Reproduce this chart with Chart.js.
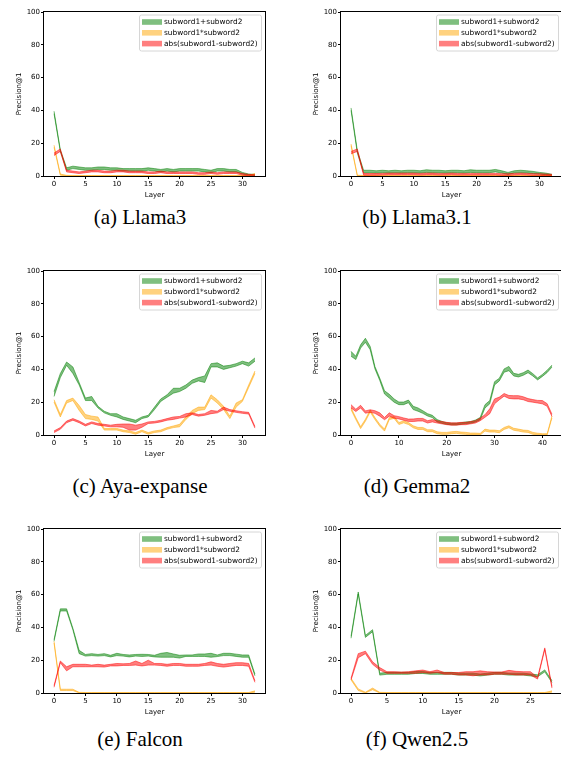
<!DOCTYPE html>
<html>
<head>
<meta charset="utf-8">
<script src="https://cdn.jsdelivr.net/npm/chart.js@4.4.0/dist/chart.umd.min.js"></script>
<style>
  body { margin: 0; width: 561px; height: 758px; overflow: hidden; position: relative; background: #fff; }
  canvas { position: absolute; }
  .cap { position: absolute; width: 280px; text-align: center; font-family: 'Liberation Serif', 'Times New Roman', serif; font-size: 21px; line-height: 21px; color: #000; }
</style>
</head>
<body>
<canvas id="llama3" width="280" height="200" style="left:0px;top:0px"></canvas>
<canvas id="llama31" width="280" height="200" style="left:297px;top:0px"></canvas>
<canvas id="aya" width="280" height="200" style="left:0px;top:259px"></canvas>
<canvas id="gemma2" width="280" height="200" style="left:297px;top:259px"></canvas>
<canvas id="falcon" width="280" height="200" style="left:0px;top:517px"></canvas>
<canvas id="qwen" width="280" height="200" style="left:297px;top:517px"></canvas>
<div class="cap" style="left:0px;top:207px">(a) Llama3</div>
<div class="cap" style="left:277px;top:207px">(b) Llama3.1</div>
<div class="cap" style="left:0px;top:476px">(c) Aya-expanse</div>
<div class="cap" style="left:277px;top:476px">(d) Gemma2</div>
<div class="cap" style="left:0px;top:729px">(e) Falcon</div>
<div class="cap" style="left:277px;top:729px">(f) Qwen2.5</div>
<script>
seriesNames = ['subword1+subword2', 'subword1*subword2', 'abs(subword1-subword2)'];
yTicks = [0, 20, 40, 60, 80, 100];

// Llama3 (layers 0..32)
llama3AddLo = [38, 15, 3.5, 4.5, 4, 3.5, 3.5, 4, 4, 3.5, 3.5, 3, 3, 3, 3, 3.5, 3, 2.5, 3, 2.5, 3, 3, 3, 3, 2.5, 2, 3, 3, 2.5, 2.5, 1.2, 0.5, 0.3];
llama3AddHi = [39.5, 16, 5, 6, 5.5, 5, 5, 5.5, 5.5, 5, 5, 4.5, 4.5, 4.5, 4.5, 5, 4.5, 4, 4.5, 4, 4.5, 4.5, 4.5, 4.5, 4, 3.5, 4.5, 4.5, 4, 4, 2.2, 1.2, 1];
llama3MulLo = [17.5, 0.5, 0, 0, 0, 0, 0, 0, 0, 0, 0, 0, 0, 0, 0, 0, 0, 0, 0, 0, 0, 0, 0, 0, 0, 0, 0, 0, 0, 0, 0, 0, 1];
llama3MulHi = [18.8, 1.2, 0.4, 0.3, 0.3, 0.3, 0.3, 0.3, 0.3, 0.3, 0.3, 0.3, 0.3, 0.3, 0.3, 0.3, 0.3, 0.3, 0.3, 0.3, 0.3, 0.3, 0.3, 0.3, 0.3, 0.3, 0.3, 0.3, 0.3, 0.3, 0.3, 0.3, 1.6];
llama3AbsLo = [12.5, 15, 2.5, 2, 1.5, 2, 2.5, 2.5, 2, 2, 2.5, 2.5, 2, 2, 2, 1.5, 1.5, 2, 1.5, 1.5, 1.5, 1.5, 1.5, 1, 1, 1.5, 1, 1.5, 1.5, 1.5, 0.5, 0.2, 0.2];
llama3AbsHi = [14, 16.5, 3.5, 3, 2.5, 3, 3.5, 3.5, 3, 3, 3.5, 3.5, 3, 3, 3, 2.5, 2.5, 3, 2.5, 2.5, 2.5, 2.5, 2.5, 2, 2, 2.5, 2, 2.5, 2.5, 2.5, 1.5, 1, 0.8];

// Llama3.1 (layers 0..32)
llama31AddLo = [40, 14, 2, 2, 1.8, 2, 1.8, 2, 1.8, 2, 2, 1.8, 2.2, 2, 2, 1.8, 2, 2, 1.8, 2.2, 2, 2, 2, 2.5, 1.8, 1, 1.8, 2, 1.8, 1.5, 1.2, 0.8, 0.3];
llama31AddHi = [41.5, 15.5, 3.5, 3.5, 3.2, 3.5, 3.2, 3.5, 3.2, 3.5, 3.5, 3.2, 3.8, 3.5, 3.5, 3.2, 3.5, 3.5, 3.2, 3.8, 3.5, 3.5, 3.5, 4, 3.2, 2.2, 3.2, 3.5, 3.2, 2.8, 2.2, 1.8, 1];
llama31MulLo = [18.5, 0, 0, 0, 0, 0, 0, 0, 0, 0, 0, 0, 0, 0, 0, 0, 0, 0, 0, 0, 0, 0, 0, 0, 0, 0, 0, 0, 0, 0, 0, 0, 0];
llama31MulHi = [19.5, 0.5, 0.3, 0.3, 0.3, 0.3, 0.3, 0.3, 0.3, 0.3, 0.3, 0.3, 0.3, 0.3, 0.3, 0.3, 0.3, 0.3, 0.3, 0.3, 0.3, 0.3, 0.3, 0.3, 0.3, 0.3, 0.3, 0.3, 0.3, 0.3, 0.3, 0.3, 0.5];
llama31AbsLo = [13.5, 15, 0.5, 0.5, 0.5, 0.6, 0.8, 0.8, 0.8, 0.8, 0.8, 0.6, 0.8, 0.8, 0.6, 0.6, 0.8, 0.6, 0.6, 0.6, 0.6, 0.6, 0.6, 0.6, 0.4, 0.4, 0.6, 0.8, 0.6, 0.4, 0.4, 0.2, 0.2];
llama31AbsHi = [15, 16.5, 1.5, 1.5, 1.5, 1.6, 1.8, 1.8, 1.8, 1.8, 1.8, 1.6, 1.8, 1.8, 1.6, 1.6, 1.8, 1.6, 1.6, 1.6, 1.6, 1.6, 1.6, 1.6, 1.4, 1.4, 1.6, 1.8, 1.6, 1.4, 1.4, 1.2, 1];

// Aya-expanse (layers 0..32)
ayaAddLo = [23.5, 35, 42.5, 37.5, 30.5, 21, 21, 16.5, 13.5, 12, 11, 9.5, 8.5, 7.5, 10, 11, 15.5, 20.5, 23, 25.5, 26.5, 28.5, 31.5, 33, 32, 41.5, 41.5, 40, 41, 42, 43.5, 42, 45];
ayaAddHi = [26.5, 37.5, 44.5, 41.5, 32, 22.5, 23.5, 17.5, 14.5, 13, 13, 11, 10, 9, 11, 12, 17, 22, 24.5, 28.5, 28.5, 30.5, 33.5, 35, 36, 43.5, 44, 42, 42.5, 43.5, 45, 44, 47];
ayaMulLo = [20, 11, 19.5, 21, 15, 10, 9.5, 8.5, 3, 3, 3, 2, 1.5, 0.5, 2, 0.5, 1.5, 2, 3.5, 4.5, 5, 9.5, 13, 15, 15.5, 22.5, 19.5, 15.5, 10, 17, 20.5, 29, 37.5];
ayaMulHi = [21.5, 12.5, 21, 22.5, 18, 12.5, 11.5, 11, 4, 4, 4, 3, 2.5, 1.5, 3, 1.5, 2.5, 3, 4.5, 5.5, 6.5, 11, 15, 17, 17, 24.5, 21.5, 17.5, 11.5, 19.5, 21.5, 30.5, 39];
ayaAbsLo = [1.5, 3.5, 7.5, 9, 7.5, 5.5, 7, 6, 5.5, 5, 5, 4.7, 3, 3, 4.7, 7, 7.3, 8, 9, 9.5, 10.3, 11, 12.5, 11.5, 12, 13, 13.5, 15.5, 14.5, 13.8, 13.2, 12.8, 4.2];
ayaAbsHi = [2.5, 4.5, 8.5, 10, 8.5, 6.5, 8, 7, 6.5, 6, 6.5, 6.7, 6.7, 6, 6.7, 8, 8.3, 9, 10, 11, 11.3, 13, 13.5, 12.5, 13, 15, 14.5, 17, 15.5, 14.8, 14.2, 13.8, 5.2];

// Gemma2 (layers 0..42)
gemmaAddLo = [48, 46, 53, 56.5, 52, 40.3, 33.3, 25, 22.5, 20, 18.5, 18.5, 19.7, 15.5, 14.5, 13.2, 11.6, 10.6, 8, 7.1, 6.5, 6.2, 6.2, 6.5, 7, 7.2, 7.9, 9.3, 16.5, 19, 30.5, 33, 38.3, 39.2, 36, 35.4, 36.4, 38, 36, 33.6, 35.7, 38.1, 41.4];
gemmaAddHi = [51, 48, 55, 59, 54, 41.7, 34.7, 27, 24.8, 22, 20.1, 20.1, 21.3, 17.5, 16.5, 14.8, 13, 12, 9.4, 8.3, 7.5, 7.2, 7.2, 7.5, 8, 8.2, 9.1, 10.7, 18.5, 21, 32.5, 34.6, 40.3, 41.8, 37.6, 37, 38, 39.6, 37.4, 34.8, 36.9, 39.5, 42.6];
gemmaMulLo = [15.4, 9.4, 3.9, 8.4, 14, 9.4, 5.4, 2.4, 9.4, 10.1, 6.4, 7.4, 6.4, 4.4, 3.4, 3.4, 2, 2, 0.8, 0.4, 0.4, 0.8, 1, 0.6, 0.4, 0, 0, 0, 2.4, 1.8, 1.8, 1.4, 3.4, 4.4, 2.9, 2.4, 1.8, 1.6, 0.4, 0, 0, 0, 10.4];
gemmaMulHi = [16.6, 10.6, 5.1, 9.6, 15.2, 10.6, 6.6, 3.6, 10.6, 11.3, 7.6, 8.6, 7.6, 5.6, 4.6, 4.6, 3.2, 3.2, 2, 1.6, 1.6, 2, 2.2, 1.8, 1.6, 1.2, 1.2, 1, 3.6, 3, 3, 2.6, 4.6, 5.6, 4.1, 3.6, 3, 2.8, 1.6, 1.1, 0.8, 0.8, 11.6];
gemmaAbsLo = [16.5, 14.3, 16.5, 13.3, 13.8, 13.2, 11.5, 9.3, 11.5, 10.2, 9.8, 9, 8.3, 8.2, 8.5, 8.5, 7.3, 8, 7.3, 6.8, 6.3, 6, 6, 6.3, 6.3, 6.8, 7.3, 8.7, 10.8, 13, 19, 21.5, 23.7, 22.3, 22, 22, 21.5, 20.4, 20, 19.5, 19, 17.5, 11.3];
gemmaAbsHi = [18.5, 15.7, 18.1, 14.7, 15.4, 14.8, 13.5, 10.7, 13.5, 11.8, 11.2, 10.4, 9.7, 9.8, 10.1, 10.1, 8.7, 9.4, 8.7, 8.2, 7.7, 7.4, 7.4, 7.7, 7.7, 8.2, 8.7, 10.3, 12.4, 16, 22, 23.1, 25.3, 24.1, 24, 24, 23.3, 22.2, 21.6, 21.1, 21, 19.1, 12.7];

// Falcon (layers 0..32)
falconAddLo = [31.5, 50, 50, 38.5, 24, 22.5, 22.8, 22.5, 22.8, 22, 22.8, 22.5, 22, 22.5, 22.3, 22.5, 22, 21.8, 21.8, 21.8, 21.3, 22.3, 22.3, 22.3, 22.3, 21.8, 22.2, 22.8, 22.8, 22.3, 21.8, 21.8, 10.5];
falconAddHi = [32.5, 51.3, 51.3, 39.5, 26, 23.5, 24, 23.5, 24, 23, 24.2, 23.5, 23.2, 23.5, 23.6, 23.5, 23, 24.2, 24.7, 23.8, 23, 23.2, 23.2, 23.8, 23.8, 24.2, 23.2, 24.2, 24.2, 23.7, 23.2, 23.2, 11.5];
falconMulLo = [30.5, 1.5, 1.5, 1.5, 0, 0, 0, 0, 0, 0, 0, 0, 0, 0, 0, 0, 0, 0, 0, 0, 0, 0, 0, 0, 0, 0, 0, 0, 0, 0, 0, 0, 0.5];
falconMulHi = [31.5, 2.3, 2.3, 2.3, 0.4, 0.3, 0.3, 0.3, 0.3, 0.3, 0.3, 0.3, 0.3, 0.3, 0.3, 0.3, 0.3, 0.3, 0.3, 0.3, 0.3, 0.3, 0.3, 0.3, 0.3, 0.3, 0.3, 0.3, 0.3, 0.3, 0.3, 0.3, 1.3];
falconAbsLo = [3.5, 18.5, 13.5, 16, 16, 16, 16, 16, 15.8, 16.5, 16.5, 16.8, 16.8, 17, 16.5, 17, 17, 16.8, 16.3, 16.8, 16.8, 16.3, 16.3, 16.3, 16.8, 17, 16.3, 15.8, 16.3, 16.8, 16.8, 16.3, 6.5];
falconAbsHi = [4.5, 19.5, 16, 17.5, 17.5, 17.5, 17, 17.5, 17, 17.5, 18, 17.8, 18, 19.5, 18, 20, 18, 18, 17.5, 18, 18, 17.5, 17.5, 17.5, 18, 19, 18, 17.5, 18, 18.5, 18.5, 18, 7.5];

// Qwen2.5 (layers 0..28)
qwenAddLo = [33.4, 60.4, 33.9, 37.4, 10.9, 11.4, 11.4, 11.4, 11.4, 11.9, 11.9, 11.4, 11.4, 11.4, 11.4, 10.9, 10.9, 10.9, 10.4, 10.9, 11.4, 11.4, 10.9, 10.9, 10.9, 10.4, 9.9, 12.9, 6.4];
qwenAddHi = [34.6, 61.6, 35.1, 38.6, 12.1, 12.6, 12.6, 12.6, 12.6, 13.1, 13.1, 12.6, 12.6, 12.6, 12.6, 12.1, 12.1, 12.1, 11.6, 12.1, 12.6, 12.6, 12.1, 12.1, 12.1, 11.6, 11.1, 14.1, 7.6];
qwenMulLo = [8, 1.5, 0, 2, 0, 0, 0, 0, 0, 0, 0, 0, 0, 0, 0, 0, 0, 0, 0, 0, 0, 0, 0, 0, 0, 0, 0, 0, 0.5];
qwenMulHi = [9, 2.5, 0.5, 3, 0.4, 0.3, 0.3, 0.3, 0.3, 0.3, 0.3, 0.3, 0.3, 0.3, 0.3, 0.3, 0.3, 0.3, 0.3, 0.3, 0.3, 0.3, 0.3, 0.3, 0.3, 0.3, 0.3, 0.3, 1.3];
qwenAbsLo = [8, 21.5, 24, 17.5, 14, 12, 12, 12, 12, 12, 12.5, 12, 12.5, 11.5, 11.5, 11, 11, 10.5, 11, 11, 11.5, 11.5, 11.5, 11, 11, 11, 8.5, 26.5, 3];
qwenAbsHi = [9, 24, 25.5, 19, 15.5, 13, 13, 12.8, 13, 13.5, 14, 13, 14, 12.5, 12.5, 12.5, 13, 13, 13.5, 13, 12.8, 12.8, 13.8, 13.2, 13, 13, 9.5, 27.5, 4];

green = 'rgba(0, 128, 0, 0.5)';
orange = 'rgba(255, 165, 0, 0.5)';
red = 'rgba(255, 0, 0, 0.5)';
colors = [green, orange, red];
tickFont = { family: 'DejaVu Sans', size: 7 };

// frame around the axes, like matplotlib spines
const framePlugin = {
  id: 'frame',
  afterDatasetsDraw(chart) {
    const a = chart.chartArea;
    const ctx = chart.ctx;
    ctx.save();
    ctx.strokeStyle = '#000';
    ctx.lineWidth = 1;
    ctx.strokeRect(Math.round(a.left) - 0.5, Math.round(a.top) - 0.5, Math.round(a.right - a.left) + 1, Math.round(a.bottom - a.top) + 1);
    ctx.restore();
  }
};

// legend box in the upper right corner of the axes
const boxLegend = {
  id: 'boxLegend',
  afterDraw(chart) {
    const a = chart.chartArea;
    const ctx = chart.ctx;
    ctx.save();
    ctx.font = '7.4px "DejaVu Sans"';
    var tw = 0;
    for (var k = 0; k < seriesNames.length; k++) tw = Math.max(tw, ctx.measureText(seriesNames[k]).width);
    const w = Math.round(25 + tw + 3), h = 36;
    const x = a.right - 4 - w, y = a.top + 2.5;
    ctx.beginPath();
    ctx.roundRect(x + 0.5, y + 0.5, w, h, 2);
    ctx.fillStyle = 'rgba(255,255,255,0.8)';
    ctx.fill();
    ctx.strokeStyle = '#d6d6d6';
    ctx.lineWidth = 1;
    ctx.stroke();
    ctx.textBaseline = 'middle';
    for (var i = 0; i < seriesNames.length; i++) {
      const cy = y + 7.5 + i * 10.8;
      ctx.fillStyle = colors[i];
      ctx.fillRect(x + 3, cy - 2.8, 20, 5.6);
      ctx.fillStyle = '#000';
      ctx.fillText(seriesNames[i], x + 25, cy + 0.5);
    }
    ctx.restore();
  }
};

function band(lo, hi, color) {
  const pts = arr => arr.map((v, i) => ({ x: i, y: v }));
  return [
    { data: pts(lo), borderColor: color, borderWidth: 1, pointRadius: 0, fill: false },
    { data: pts(hi), borderColor: color, borderWidth: 1, pointRadius: 0, fill: '-1', backgroundColor: color }
  ];
}

function makeChart(id, add, mul, abs, step) {
  const last = add[0].length - 1;
  // red first so it is painted on top
  const datasets = [].concat(band(abs[0], abs[1], red), band(mul[0], mul[1], orange), band(add[0], add[1], green));
  return new Chart(document.getElementById(id), {
    type: 'line',
    data: { datasets: datasets },
    plugins: [framePlugin, boxLegend],
    options: {
      responsive: false,
      animation: false,
      devicePixelRatio: 1,
      layout: { padding: { top: 12, right: 15, left: 0, bottom: 0 } },
      plugins: { legend: { display: false }, tooltip: { enabled: false } },
      scales: {
        x: {
          type: 'linear',
          min: -0.05 * last,
          max: last * 1.05,
          afterBuildTicks: (scale) => {
            const t = [];
            for (var v = 0; v <= last; v += step) t.push({ value: v });
            scale.ticks = t;
          },
          afterFit: (scale) => { scale.height = 24; },
          grid: { drawOnChartArea: false, drawTicks: true, tickLength: 3, color: '#000' },
          border: { display: false },
          ticks: { font: tickFont, color: '#000', padding: 1, maxRotation: 0 },
          title: { display: true, text: 'Layer', font: tickFont, color: '#000', padding: { top: 0, bottom: 1 } }
        },
        y: {
          min: 0,
          max: 100,
          afterBuildTicks: (scale) => { scale.ticks = yTicks.map(v => ({ value: v })); },
          afterFit: (scale) => { scale.width = 44; },
          grid: { drawOnChartArea: false, drawTicks: true, tickLength: 3, color: '#000' },
          border: { display: false },
          ticks: { font: tickFont, color: '#000', padding: 1 },
          title: { display: true, text: 'Precision@1', font: tickFont, color: '#000', padding: { top: 15, bottom: 0 } }
        }
      }
    }
  });
}

charts = [];
charts.push(makeChart('llama3', [llama3AddLo, llama3AddHi], [llama3MulLo, llama3MulHi], [llama3AbsLo, llama3AbsHi], 5));
charts.push(makeChart('llama31', [llama31AddLo, llama31AddHi], [llama31MulLo, llama31MulHi], [llama31AbsLo, llama31AbsHi], 5));
charts.push(makeChart('aya', [ayaAddLo, ayaAddHi], [ayaMulLo, ayaMulHi], [ayaAbsLo, ayaAbsHi], 5));
charts.push(makeChart('gemma2', [gemmaAddLo, gemmaAddHi], [gemmaMulLo, gemmaMulHi], [gemmaAbsLo, gemmaAbsHi], 10));
charts.push(makeChart('falcon', [falconAddLo, falconAddHi], [falconMulLo, falconMulHi], [falconAbsLo, falconAbsHi], 5));
charts.push(makeChart('qwen', [qwenAddLo, qwenAddHi], [qwenMulLo, qwenMulHi], [qwenAbsLo, qwenAbsHi], 5));
</script>
</body>
</html>
